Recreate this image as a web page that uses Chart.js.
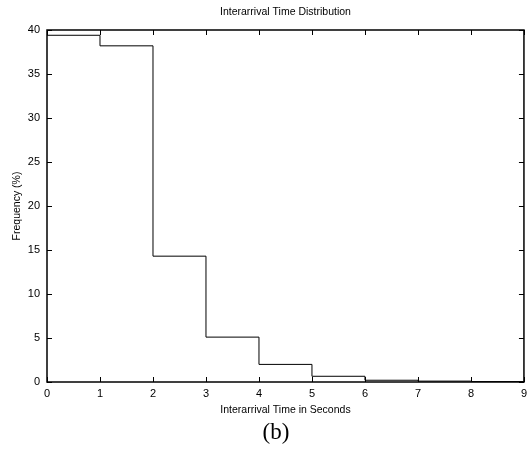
<!DOCTYPE html>
<html>
<head>
<meta charset="utf-8">
<script src="https://cdn.jsdelivr.net/npm/chart.js@4.4.0/dist/chart.umd.min.js"></script>
<style>
  html, body { margin: 0; padding: 0; background: #fff; }
  #wrap { position: relative; width: 532px; height: 451px; }
  #caption {
    position: absolute; left: 0; width: 532px; top: 419px;
    text-align: center; font-family: "Liberation Serif", serif; font-size: 23px; line-height: 26px;
    padding-left: 20px; box-sizing: border-box;
  }
</style>
</head>
<body>
<div id="wrap">
  <canvas id="chart" width="532" height="451"></canvas>
  <div id="caption">(b)</div>
</div>
<script>
// bin edges in seconds and frequency (%) per bin
const binEdges = [0, 1, 2, 3, 4, 5, 6, 7, 8, 9];
const frequency = [39.4, 38.2, 14.3, 5.1, 2.0, 0.65, 0.2, 0.1, 0.05];
const xTicks = [0, 1, 2, 3, 4, 5, 6, 7, 8, 9];
const yTicks = [0, 5, 10, 15, 20, 25, 30, 35, 40];

const points = binEdges.map((x, i) => ({ x: x, y: frequency[Math.min(i, frequency.length - 1)] }));

const font = 'Liberation Sans, Arial, sans-serif';

// gnuplot-like frame with inward ticks on all four sides
const framePlugin = {
  id: 'frame',
  afterDraw(chart) {
    const { ctx, chartArea: a, scales } = chart;
    ctx.save();
    ctx.strokeStyle = '#000';
    ctx.lineWidth = 1;
    ctx.beginPath();
    xTicks.forEach(v => {
      const px = Math.round(scales.x.getPixelForValue(v)) + 0.5;
      ctx.moveTo(px, a.bottom); ctx.lineTo(px, a.bottom - 5);
      ctx.moveTo(px, a.top); ctx.lineTo(px, a.top + 5);
    });
    yTicks.forEach(v => {
      const py = Math.round(scales.y.getPixelForValue(v)) + 0.5;
      ctx.moveTo(a.left, py); ctx.lineTo(a.left + 5, py);
      ctx.moveTo(a.right, py); ctx.lineTo(a.right - 5, py);
    });
    ctx.stroke();
    ctx.lineWidth = 1.5;
    ctx.strokeRect(a.left, a.top, a.right - a.left, a.bottom - a.top);
    ctx.restore();
  }
};

new Chart(document.getElementById('chart'), {
  type: 'line',
  data: {
    datasets: [{
      data: points,
      stepped: 'before',
      borderColor: '#000',
      borderWidth: 1,
      pointRadius: 0,
      fill: false
    }]
  },
  options: {
    responsive: false,
    animation: false,
    layout: { padding: { left: 0, right: 6, top: 0, bottom: 0 } },
    plugins: {
      legend: { display: false },
      tooltip: { enabled: false },
      title: {
        display: true,
        fullSize: false,
        text: 'Interarrival Time Distribution',
        color: '#000',
        font: { family: font, size: 10.5, weight: 'normal' },
        padding: { top: 6, bottom: 11.4 }
      }
    },
    scales: {
      x: {
        type: 'linear',
        min: 0,
        max: 9,
        afterFit: s => { s.height = 69; },
        afterBuildTicks: s => { s.ticks = xTicks.map(v => ({ value: v })); },
        grid: { display: false, drawTicks: false, tickLength: 0 },
        border: { display: false },
        ticks: { color: '#000', font: { family: font, size: 11 }, padding: 5, maxRotation: 0 },
        title: {
          display: true,
          text: 'Interarrival Time in Seconds',
          color: '#000',
          font: { family: font, size: 10.5 },
          padding: { top: 0, bottom: 35 }
        }
      },
      y: {
        min: 0,
        max: 40,
        afterFit: s => { s.width = 47; },
        afterBuildTicks: s => { s.ticks = yTicks.map(v => ({ value: v })); },
        grid: { display: false, drawTicks: false, tickLength: 0 },
        border: { display: false },
        ticks: { color: '#000', font: { family: font, size: 11 }, padding: 7 },
        title: {
          display: true,
          text: 'Frequency (%)',
          color: '#000',
          font: { family: font, size: 10.5 },
          padding: { top: 11, bottom: 0 }
        }
      }
    }
  },
  plugins: [framePlugin]
});
</script>
</body>
</html>
